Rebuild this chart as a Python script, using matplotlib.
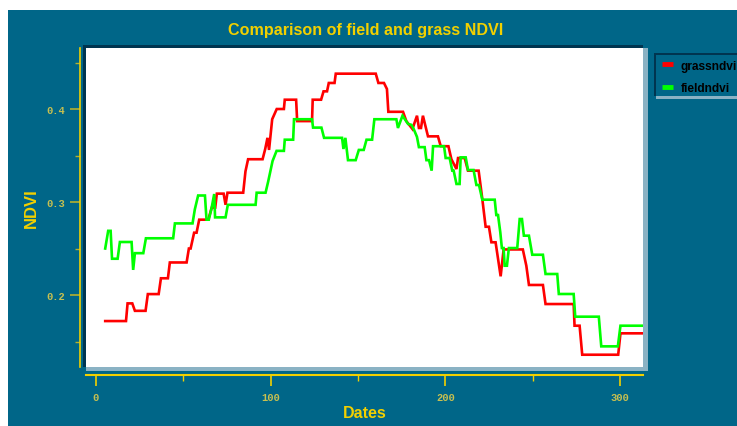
import matplotlib
matplotlib.use("Agg")
import matplotlib.pyplot as plt
from matplotlib.patches import Rectangle
from matplotlib.lines import Line2D

# ---------------- data ----------------
grass_days = [5.3, 17.2, 18.1, 20.8, 22.3, 28.4, 29.7, 35.9, 37.2, 41.2, 42.3, 51.9,
              53.2, 54.2, 56.2, 57.6, 59.1, 64.3, 66.3, 68.3, 69.2, 73.1, 74.2, 75.3,
              84.3, 85.6, 87.1, 95.4, 96.9, 98.2, 99.1, 100.9, 103.5, 107.6, 108.1,
              114.6, 115.2, 123.7, 124.1, 128.9, 130.3, 132.3, 133.3, 136.6, 137.3,
              160.2, 161.7, 164.9, 166.6, 167.4, 175.8, 177.7, 181.2, 183.8, 184.9,
              186.1, 187.2, 188.6, 190.1, 195.8, 197.4, 201.8, 203.5, 206.4, 207.3,
              211.1, 213.0, 219.1, 221.2, 223.1, 225.0, 226.4, 228.8, 231.7, 233.4,
              244.4, 246.4, 247.9, 255.9, 257.4, 273.5, 274.0, 276.9, 278.4, 299.0,
              300.3, 313.1]
grass_ndvi = [0.172, 0.172, 0.191, 0.191, 0.183, 0.183, 0.201, 0.201, 0.218, 0.218, 0.235, 0.235,
              0.250, 0.250, 0.267, 0.267, 0.281, 0.281, 0.294, 0.294, 0.309, 0.309, 0.297, 0.310,
              0.310, 0.333, 0.346, 0.346, 0.357, 0.369, 0.356, 0.389, 0.400, 0.400, 0.410,
              0.410, 0.387, 0.387, 0.410, 0.410, 0.419, 0.419, 0.428, 0.428, 0.438,
              0.438, 0.428, 0.428, 0.4215, 0.397, 0.397, 0.387, 0.3785, 0.3928, 0.3796,
              0.3796, 0.3928, 0.382, 0.3706, 0.3706, 0.360, 0.360, 0.346, 0.3355, 0.3473,
              0.3473, 0.3337, 0.3337, 0.3032, 0.2734, 0.2734, 0.2567, 0.2567, 0.2201, 0.249,
              0.249, 0.2315, 0.2108, 0.2108, 0.1903, 0.1903, 0.167, 0.167, 0.1358, 0.1358,
              0.1588, 0.1588]

field_days = [5.3, 7.0, 8.4, 9.2, 12.4, 13.7, 20.4, 21.3, 22.3, 27.1, 28.6, 44.2, 45.2,
              55.3, 56.6, 58.5, 62.4, 63.3, 64.6, 66.2, 67.7, 68.2, 74.2, 75.5, 91.4, 92.0,
              97.1, 98.6, 101.1, 103.4, 107.6, 108.1, 112.9, 113.4, 123.7, 124.3, 129.1,
              130.6, 140.9, 141.7, 142.8, 144.3, 148.7, 150.5, 153.3, 154.9, 158.1, 159.4,
              172.0, 172.9, 175.5, 178.7, 180.6, 181.9, 183.8, 184.9, 188.2, 189.2, 190.7,
              192.2, 193.0, 199.3, 200.2, 202.5, 204.0, 204.8, 206.4, 208.2, 208.8, 211.7,
              213.0, 216.2, 217.8, 219.3, 221.2, 228.3, 229.2, 230.2, 231.5, 232.4, 233.4,
              234.0, 235.3, 236.4, 241.2, 242.6, 243.9, 245.0, 247.9, 249.8, 255.9, 257.4,
              264.1, 265.0, 273.5, 274.4, 287.9, 289.3, 298.8, 300.3, 313.1]
field_ndvi = [0.250, 0.269, 0.269, 0.239, 0.239, 0.257, 0.257, 0.227, 0.245, 0.245, 0.261, 0.261, 0.277,
              0.277, 0.292, 0.307, 0.307, 0.281, 0.281, 0.2935, 0.3086, 0.2835, 0.2835, 0.297, 0.297, 0.310,
              0.310, 0.322, 0.344, 0.355, 0.355, 0.367, 0.367, 0.389, 0.389, 0.380, 0.380,
              0.369, 0.369, 0.357, 0.369, 0.345, 0.345, 0.356, 0.356, 0.367, 0.367, 0.389,
              0.389, 0.3796, 0.3928, 0.3839, 0.383, 0.3785, 0.370, 0.359, 0.359, 0.345, 0.345,
              0.3337, 0.360, 0.360, 0.3473, 0.3473, 0.3337, 0.3337, 0.3194, 0.3194, 0.348, 0.348,
              0.3344, 0.3344, 0.3183, 0.3183, 0.3025, 0.3025, 0.286, 0.286, 0.2674, 0.2505, 0.2505,
              0.2315, 0.2315, 0.2505, 0.2505, 0.2817, 0.2817, 0.2638, 0.2638, 0.2433, 0.2433, 0.2226,
              0.2226, 0.2011, 0.2011, 0.1767, 0.1767, 0.1448, 0.1448, 0.167, 0.167]

series_labels = ["grassndvi", "fieldndvi"]
x_major = [0, 100, 200, 300]
x_minor = [50, 150, 250]
y_major = [0.2, 0.3, 0.4]
y_minor = [0.15, 0.25, 0.35, 0.45]

# ---------------- style ----------------
W, H = 737, 427
BG = "#006688"
GOLD = "#F2D000"
TICKC = "#B4B030"
LABC = "#C8C050"
DARK = "#003550"
LIGHT = "#8AB2C4"

fig = plt.figure(figsize=(W / 100, H / 100), dpi=100, facecolor="white")

def fx(px):
    return px / W

def fy(py):
    return 1 - py / H

def frect(x0, y0, x1, y1, color, z):
    # rectangle given in pixel coordinates (top-left origin)
    fig.patches.append(Rectangle((fx(x0), fy(y1)), fx(x1) - fx(x0), fy(y0) - fy(y1),
                                 transform=fig.transFigure, facecolor=color,
                                 edgecolor="none", zorder=z))

# background panel
frect(8, 11, W, H, BG, -10)

# plot panel borders
L, R, T, B = 86, 643, 49, 368
frect(L, B, R + 5, B + 4, LIGHT, -5)
frect(R, T, R + 5, B + 4, LIGHT, -5)
frect(L - 3, T - 3, L, B, DARK, -5)
frect(L - 3, T - 3, R, T, DARK, -5)

ax = fig.add_axes([fx(L), fy(B), fx(R) - fx(L), fy(T) - fy(B)])
ax.set_zorder(2)
ax.set_facecolor("white")
ax.set_xlim(-5.7, 313.2)
ax.set_ylim(0.1226, 0.4656)

ax.plot(grass_days, grass_ndvi, color="#FF0000", lw=1.9, solid_joinstyle="miter")
ax.plot(field_days, field_ndvi, color="#00FF00", lw=1.9, solid_joinstyle="miter")

for s in ["top", "right"]:
    ax.spines[s].set_visible(False)
ax.spines["left"].set_position(("outward", 4.3))
ax.spines["bottom"].set_position(("outward", 5.8))
ax.spines["left"].set_color(GOLD)
ax.spines["bottom"].set_color(GOLD)
ax.spines["left"].set_linewidth(1.2)
ax.spines["bottom"].set_linewidth(1.5)

ax.set_xticks(x_major)
ax.set_xticks(x_minor, minor=True)
ax.set_yticks(y_major)
ax.set_yticks(y_minor, minor=True)
ax.set_xticklabels([str(v) for v in x_major])
ax.set_yticklabels([f"{v:.1f}" for v in y_major])

ax.tick_params(axis="x", which="major", length=8, width=1.2, color=GOLD, pad=4.5,
               labelcolor=LABC, labelsize=7.5)
ax.tick_params(axis="x", which="minor", length=4.5, width=1.0, color=GOLD)
ax.tick_params(axis="y", which="major", length=7.2, width=1.2, color=TICKC, pad=3.5,
               labelcolor=LABC, labelsize=7.5)
ax.tick_params(axis="y", which="minor", length=3.6, width=1.0, color=TICKC)
for t in ax.get_xticklabels() + ax.get_yticklabels():
    t.set_fontfamily(["Liberation Mono", "DejaVu Sans Mono"])
    t.set_fontweight("bold")

# title and axis labels
fig.text(fx(366), fy(31), "Comparison of field and grass NDVI", ha="center", va="center",
         color=GOLD, fontsize=11.6, fontweight="bold", family="Liberation Sans")
fig.text(fx(365), fy(414), "Dates", ha="center", va="center",
         color=GOLD, fontsize=11.5, fontweight="bold", family="Liberation Sans")
fig.text(fx(31), fy(208), "NDVI", ha="center", va="center", rotation=90,
         color=GOLD, fontsize=12, fontweight="bold", family="Liberation Sans")

# legend box
LL, LT, LB = 656, 56, 97
frect(LL, LB, W, LB + 3, LIGHT, -5)
frect(LL - 2, LT - 2, LL, LB, DARK, -5)
frect(LL - 2, LT - 2, W, LT, DARK, -5)

handles = [Line2D([], [], color="#FF0000", lw=3.5, solid_capstyle="butt"),
           Line2D([], [], color="#00FF00", lw=3.5, solid_capstyle="butt")]
leg = fig.legend(handles, series_labels, loc="upper left", bbox_to_anchor=(fx(658), fy(57)),
                 frameon=False, handlelength=0.95, handletextpad=0.65, labelspacing=0.85,
                 borderaxespad=0, borderpad=0.3,
                 prop=dict(family="Liberation Sans", weight="bold", size=8.6))
for t in leg.get_texts():
    t.set_color("black")

fig.savefig("out.png", dpi=100, facecolor="white")
